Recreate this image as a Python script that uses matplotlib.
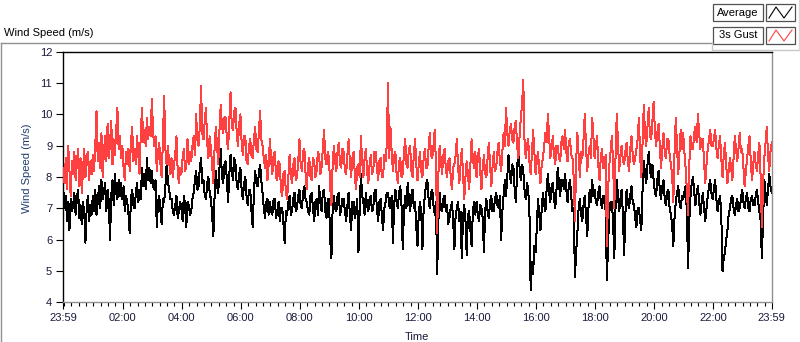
import matplotlib
matplotlib.use("Agg")
import matplotlib.pyplot as plt
from matplotlib.lines import Line2D
from matplotlib.patches import Rectangle
import numpy as np

plt.rcParams['font.family'] = ['Liberation Sans', 'DejaVu Sans']

# 2.5-minute readings (one row per hour), starting 23:59
gust = [
    8.3, 7.8, 8.6, 7.6, 9.0, 8.2, 7.4, 8.5, 8.1, 8.8, 7.9, 8.4, 8.9, 7.7, 8.6, 7.5, 8.2, 8.9, 8.0, 8.6, 8.8, 7.9, 8.5, 8.1,
    8.7, 8.2, 9.0, 10.1, 8.5, 9.1, 8.3, 9.4, 8.0, 8.8, 9.3, 8.5, 9.7, 8.6, 9.1, 9.8, 8.4, 9.2, 8.7, 9.5, 10.2, 8.9, 9.3, 8.6,
    9.0, 8.3, 7.9, 8.8, 8.4, 8.9, 8.2, 9.1, 9.6, 8.5, 8.9, 8.4, 9.3, 8.7, 8.1, 9.4, 10.2, 9.1, 9.5, 9.0, 9.9, 9.2, 9.6, 9.3,
    10.5, 9.4, 9.0, 9.3, 8.2, 8.8, 9.1, 8.4, 8.0, 9.2, 10.6, 8.9, 8.4, 9.0, 8.5, 8.1, 8.6, 8.0, 8.4, 8.7, 9.3, 8.2, 7.8, 8.3,
    8.1, 8.6, 8.9, 8.2, 8.3, 9.2, 8.4, 8.8, 8.5, 9.0, 9.3, 8.7, 10.0, 9.2, 9.0, 9.6, 10.9, 9.4, 9.2, 9.8, 10.2, 9.1, 8.6, 9.3,
    8.9, 8.4, 7.8, 8.9, 9.6, 9.0, 8.4, 9.5, 10.3, 9.6, 9.4, 9.9, 9.9, 9.2, 8.9, 9.8, 10.7, 9.6, 9.5, 10.1, 10.2, 9.4, 9.0, 9.7,
    10.0, 9.1, 8.7, 9.3, 9.3, 8.5, 8.4, 9.0, 9.2, 8.7, 8.6, 9.2, 9.6, 8.9, 8.8, 9.4, 10.1, 9.2, 9.0, 8.6, 8.3, 8.7, 7.9, 8.4,
    9.2, 8.5, 8.1, 8.7, 8.8, 8.0, 7.9, 8.5, 8.4, 7.6, 7.4, 8.1, 8.2, 7.5, 7.3, 8.0, 8.7, 8.1, 7.8, 8.4, 8.6, 7.9, 8.0, 8.5,
    9.2, 8.4, 8.2, 8.8, 8.9, 8.1, 7.6, 8.4, 8.6, 8.0, 7.9, 8.6, 8.5, 8.0, 8.2, 8.8, 8.7, 8.1, 8.3, 8.9, 9.5, 8.6, 8.4, 8.8,
    8.6, 7.7, 7.1, 8.4, 9.0, 8.5, 8.2, 8.8, 9.1, 8.4, 8.3, 8.9, 8.8, 8.2, 8.1, 8.7, 9.2, 8.5, 8.0, 8.6, 8.8, 8.1, 7.6, 8.3,
    8.4, 8.0, 9.3, 8.5, 8.0, 8.6, 8.9, 8.2, 7.8, 8.4, 8.7, 8.1, 8.2, 8.8, 8.8, 8.3, 7.9, 8.5, 8.6, 8.0, 8.0, 8.7, 8.5, 9.0,
    11.0, 8.6, 9.6, 8.8, 8.2, 8.7, 8.8, 8.1, 7.8, 8.5, 8.6, 8.0, 8.1, 8.8, 9.2, 8.4, 8.3, 8.9, 9.0, 8.2, 8.0, 8.7, 9.2, 8.4,
    7.9, 8.4, 8.8, 8.2, 8.0, 8.6, 8.9, 8.3, 8.3, 8.9, 9.4, 8.7, 8.6, 9.0, 9.5, 8.4, 6.2, 8.1, 9.0, 8.5, 8.1, 8.7, 8.9, 8.3,
    8.0, 8.5, 8.6, 8.0, 7.6, 8.3, 8.4, 8.7, 9.2, 8.3, 7.8, 8.4, 8.9, 8.1, 7.3, 8.0, 8.5, 8.1, 7.6, 8.4, 9.2, 8.6, 8.3, 8.8,
    8.0, 8.6, 8.9, 8.2, 7.6, 8.3, 8.7, 8.1, 8.0, 8.6, 9.1, 8.4, 7.7, 8.3, 8.8, 8.2, 8.3, 8.8, 9.1, 8.5, 8.2, 8.8, 9.4, 9.0,
    10.2, 9.4, 9.0, 9.5, 9.7, 9.2, 9.1, 9.6, 9.8, 9.0, 8.6, 9.3, 9.9, 10.3, 11.1, 9.2, 8.6, 9.0, 9.2, 8.5, 8.1, 8.7, 9.5, 8.8,
    8.1, 8.5, 8.8, 8.2, 7.8, 8.4, 8.6, 9.0, 9.4, 9.1, 10.0, 9.3, 8.6, 8.9, 9.3, 8.7, 8.4, 9.0, 9.0, 8.6, 8.5, 9.1, 9.3, 8.9,
    9.5, 8.8, 8.5, 9.1, 9.2, 8.7, 8.6, 8.0, 6.6, 8.5, 9.4, 8.7, 8.0, 8.8, 8.6, 9.2, 10.0, 9.0, 8.2, 8.7, 9.0, 8.6, 9.9, 9.3,
    8.6, 9.0, 9.3, 8.4, 7.9, 8.6, 8.9, 8.3, 8.3, 8.7, 5.8, 7.6, 8.4, 8.8, 9.3, 8.5, 7.0, 8.6, 10.0, 9.1, 8.2, 8.7, 9.0, 8.5,
    8.4, 8.8, 9.1, 8.5, 8.2, 8.9, 9.3, 8.7, 8.4, 8.6, 8.9, 9.2, 9.9, 8.7, 8.0, 9.1, 10.3, 9.4, 9.0, 9.6, 10.2, 9.3, 9.2, 9.8,
    10.4, 9.5, 9.0, 9.4, 9.7, 9.0, 8.3, 8.9, 9.4, 8.8, 8.6, 9.2, 9.2, 8.7, 8.4, 8.1, 7.2, 8.8, 9.9, 9.0, 8.1, 8.8, 9.5, 8.9,
    9.4, 8.8, 8.3, 7.6, 6.8, 8.4, 9.3, 8.9, 8.9, 9.4, 9.6, 9.1, 10.0, 9.4, 8.9, 9.2, 9.2, 8.5, 7.8, 8.4, 8.9, 9.2, 9.5, 9.0,
    9.0, 9.2, 9.5, 8.9, 8.6, 9.0, 9.3, 8.6, 8.0, 8.7, 9.1, 8.4, 7.8, 8.2, 8.6, 8.3, 7.9, 8.6, 9.3, 8.9, 8.5, 8.9, 9.4, 8.8,
    8.9, 8.3, 7.7, 8.2, 8.6, 9.0, 9.3, 8.5, 7.9, 8.4, 8.8, 8.4, 8.2, 8.7, 9.1, 8.0, 6.4, 7.8, 8.6, 9.1, 9.6, 8.7, 8.2, 8.8, 9.1,
]

average = [
    7.6, 7.0, 7.4, 6.6, 7.2, 6.3, 7.3, 6.9, 7.1, 7.5, 6.8, 7.3, 7.6, 6.7, 7.1, 6.5, 7.2, 6.9, 5.9, 7.0, 7.4, 6.6, 7.1, 6.8,
    7.4, 6.9, 7.6, 6.8, 7.2, 7.7, 7.0, 7.9, 7.3, 7.5, 7.8, 6.9, 7.6, 7.2, 6.0, 7.4, 7.9, 7.1, 8.1, 7.5, 7.3, 7.9, 7.4, 7.8,
    7.3, 7.7, 6.9, 7.4, 7.2, 6.8, 6.2, 7.3, 7.6, 7.1, 7.0, 7.5, 7.8, 7.2, 7.6, 7.3, 8.3, 7.7, 8.1, 7.6, 8.6, 7.9, 8.3, 7.8,
    8.2, 7.7, 7.6, 7.9, 6.4, 7.2, 7.4, 6.9, 6.5, 7.3, 7.2, 7.7, 8.4, 7.9, 7.6, 7.3, 7.3, 6.9, 6.8, 7.1, 7.4, 6.7, 6.9, 7.2,
    7.0, 6.6, 7.4, 7.1, 6.4, 7.2, 7.1, 6.8, 6.9, 7.3, 7.5, 7.9, 8.2, 7.6, 7.7, 8.3, 8.6, 7.8, 7.9, 7.4, 7.3, 7.8, 8.0, 7.5,
    7.3, 6.8, 6.1, 7.4, 8.2, 7.7, 7.5, 8.3, 8.9, 8.0, 7.8, 8.4, 8.5, 7.9, 7.2, 8.1, 8.7, 8.2, 7.9, 8.6, 8.4, 7.8, 7.6, 8.1,
    8.3, 7.6, 7.3, 7.8, 8.0, 7.4, 7.1, 7.6, 7.6, 6.9, 6.4, 7.5, 8.2, 7.8, 7.7, 8.1, 8.4, 7.9, 7.5, 7.0, 6.7, 7.2, 7.3, 6.8,
    7.2, 6.9, 6.8, 7.3, 7.3, 6.7, 6.9, 7.2, 6.6, 7.0, 7.0, 6.5, 5.9, 6.9, 6.8, 7.2, 7.4, 6.8, 6.9, 7.3, 7.5, 6.9, 7.0, 7.4,
    7.6, 7.1, 7.0, 7.5, 7.7, 7.3, 7.2, 6.9, 6.8, 7.4, 7.5, 7.0, 6.6, 7.2, 7.3, 6.8, 7.7, 7.2, 6.9, 7.5, 7.6, 6.9, 6.7, 7.3,
    7.3, 6.0, 5.4, 7.0, 7.4, 7.0, 6.9, 7.4, 7.5, 6.8, 7.0, 7.3, 7.3, 6.9, 6.6, 7.1, 7.5, 6.8, 6.3, 7.2, 7.2, 6.7, 6.9, 7.3,
    5.6, 7.0, 8.1, 7.4, 7.2, 6.8, 7.5, 7.1, 6.9, 7.3, 7.4, 6.9, 7.0, 7.5, 7.6, 7.0, 6.6, 7.2, 7.3, 6.8, 6.3, 7.0, 7.2, 7.5,
    7.5, 7.1, 7.0, 7.4, 5.9, 7.1, 7.6, 7.2, 7.0, 7.5, 7.7, 7.1, 5.7, 6.9, 7.4, 7.0, 7.8, 7.3, 6.9, 7.4, 7.6, 7.0, 7.2, 6.4,
    5.8, 6.8, 7.2, 6.9, 5.7, 7.0, 7.4, 7.8, 7.9, 7.3, 7.0, 7.5, 7.6, 7.1, 6.8, 7.2, 4.9, 6.6, 7.5, 7.0, 6.9, 7.3, 7.4, 6.9,
    7.1, 6.5, 6.7, 7.0, 7.2, 6.6, 5.7, 6.8, 7.0, 7.2, 6.6, 6.9, 5.4, 6.7, 7.1, 6.6, 5.5, 6.8, 6.9, 6.3, 5.8, 6.9, 7.2, 6.8,
    7.2, 6.8, 6.6, 7.1, 7.0, 6.7, 5.6, 6.9, 7.3, 6.9, 6.7, 7.2, 7.4, 6.9, 6.9, 7.3, 7.5, 7.1, 7.0, 7.4, 6.0, 6.9, 7.4, 7.9,
    7.4, 8.0, 8.7, 8.1, 7.8, 8.4, 8.3, 7.6, 7.2, 8.2, 9.0, 8.3, 7.9, 8.4, 8.2, 7.6, 7.3, 7.8, 7.6, 6.9, 4.4, 5.3, 4.9, 5.8,
    5.6, 6.4, 7.3, 6.8, 6.3, 7.0, 7.5, 7.1, 6.9, 7.6, 8.1, 7.5, 7.2, 7.7, 7.8, 7.3, 7.0, 7.6, 8.3, 7.8, 7.4, 7.9, 7.9, 7.6,
    8.1, 7.6, 7.2, 7.7, 7.9, 7.4, 6.9, 7.0, 4.8, 5.6, 6.2, 7.0, 7.3, 6.8, 6.6, 7.1, 7.4, 6.8, 6.1, 7.0, 7.6, 7.2, 7.9, 7.4,
    7.6, 7.2, 7.1, 7.5, 7.7, 7.2, 7.0, 7.4, 7.4, 6.9, 4.7, 5.9, 6.9, 7.2, 7.2, 6.6, 5.4, 7.0, 7.9, 7.4, 6.9, 7.3, 7.6, 6.8,
    5.5, 6.8, 7.6, 7.2, 7.0, 7.4, 7.7, 7.2, 7.1, 6.7, 6.4, 7.0, 7.0, 6.6, 6.3, 7.6, 8.5, 8.1, 7.8, 8.4, 8.8, 8.2, 8.0, 8.4,
    7.9, 7.5, 7.4, 7.9, 8.2, 7.6, 7.3, 7.7, 7.9, 7.3, 7.1, 7.5, 7.6, 7.0, 6.8, 6.5, 5.8, 6.7, 7.2, 7.5, 7.7, 7.2, 7.0, 7.4,
    7.3, 7.5, 7.7, 6.9, 5.1, 6.6, 7.4, 7.8, 8.0, 7.5, 7.1, 7.5, 7.7, 7.2, 6.8, 7.2, 7.5, 7.0, 6.6, 7.0, 7.4, 7.7, 7.9, 7.5,
    7.3, 7.6, 7.9, 7.3, 6.9, 7.2, 7.4, 6.8, 5.0, 5.4, 5.6, 6.0, 6.3, 6.8, 7.0, 7.3, 7.4, 7.0, 6.8, 7.1, 7.3, 6.9, 7.0, 7.3,
    7.6, 7.2, 7.0, 7.3, 7.5, 7.0, 6.9, 7.3, 7.4, 7.1, 7.1, 7.4, 7.6, 7.2, 6.9, 6.6, 5.4, 6.6, 7.9, 7.5, 7.1, 7.6, 8.1, 7.7, 7.5,
]

tick_labels = ['23:59', '02:00', '04:00', '06:00', '08:00', '10:00', '12:00',
               '14:00', '16:00', '18:00', '20:00', '22:00', '23:59']
tick_hours = [0.0, 2.0167, 4.0167, 6.0167, 8.0167, 10.0167, 12.0167,
              14.0167, 16.0167, 18.0167, 20.0167, 22.0167, 24.0]
series_names = ['Average', '3s Gust']

W, H = 800, 342
fig = plt.figure(figsize=(W / 100, H / 100), dpi=100)

def fx(px):
    return px / W

def fy(py):
    return 1 - py / H

ax = fig.add_axes([fx(63.3), fy(302.3), fx(771.7) - fx(63.3), fy(51.7) - fy(302.3)])

t_avg = np.linspace(0, 24, len(average))
t_gust = np.linspace(0, 24, len(gust))
ax.plot(t_avg, average, color='black', lw=0.72, zorder=2, antialiased=False)
ax.plot(t_gust, gust, color='#ff4040', lw=0.72, zorder=3, antialiased=False)

ax.set_xlim(0, 24)
ax.set_ylim(4, 12)
ax.set_yticks(range(4, 13))
ax.set_xticks(tick_hours)
ax.set_xticklabels(tick_labels)
minor = [m for m in np.arange(2.0167 - 8 * 0.25, 24.0, 0.25) if 0 < m < 24]
ax.set_xticks(minor, minor=True)

lab_color = '#1a1a3a'
ax.tick_params(axis='both', which='major', labelsize=8, colors='black',
               labelcolor=lab_color, length=5, width=0.8, direction='out')
ax.tick_params(axis='x', which='minor', length=3, width=0.8, colors='black')
ax.tick_params(axis='x', pad=3)
ax.tick_params(axis='y', pad=3)

for s in ['top', 'left']:
    ax.spines[s].set_color('black')
    ax.spines[s].set_linewidth(1.0)
for s in ['right', 'bottom']:
    ax.spines[s].set_color('#909090')
    ax.spines[s].set_linewidth(1.0)

ax.set_ylabel('Wind Speed (m/s)', fontsize=8, color='#1f3c6e')
ax.yaxis.set_label_coords(-0.044, 0.533)
ax.set_xlabel('Time', fontsize=8, color=lab_color)
ax.xaxis.set_label_coords(0.499, -0.12)

# outer frame lines (LabVIEW panel)
gray = '#909090'
fig.add_artist(Line2D([fx(1), fx(712)], [fy(42.5), fy(42.5)], color=gray, lw=1.0))
fig.add_artist(Line2D([fx(1), fx(1)], [fy(42.5), fy(341)], color=gray, lw=1.0))
fig.add_artist(Line2D([fx(712), fx(712)], [fy(42.5), fy(50)], color='#c8c8c8', lw=1.0))
fig.add_artist(Line2D([fx(712), fx(799)], [fy(50), fy(50)], color='#c8c8c8', lw=1.0))
fig.add_artist(Line2D([fx(799), fx(799)], [fy(0), fy(50)], color='#d8d8d8', lw=1.0))

fig.text(fx(4), fy(33), 'Wind Speed (m/s)', fontsize=8, color='black',
         ha='left', va='center')

# legend
leg_colors = ['black', '#ff4040']
for i, (name, col) in enumerate(zip(series_names, leg_colors)):
    top = 4 + i * 23
    bot = top + 17
    fig.add_artist(Rectangle((fx(713), fy(bot)), fx(763) - fx(713), fy(top) - fy(bot),
                             transform=fig.transFigure, facecolor='white',
                             edgecolor='#505050', lw=0.9))
    fig.text(fx(738), fy((top + bot) / 2), name, fontsize=8, color='black',
             ha='center', va='center')
    fig.add_artist(Rectangle((fx(766), fy(bot)), fx(795) - fx(766), fy(top) - fy(bot),
                             transform=fig.transFigure, facecolor='white',
                             edgecolor='#505050', lw=0.9))
    zx = [769, 776, 784, 792]
    zy = [bot - 3, top + 3, bot - 3, top + 3]
    fig.add_artist(Line2D([fx(v) for v in zx], [fy(v) for v in zy], color=col, lw=0.8))

fig.savefig('out.png', dpi=100, facecolor='white')
